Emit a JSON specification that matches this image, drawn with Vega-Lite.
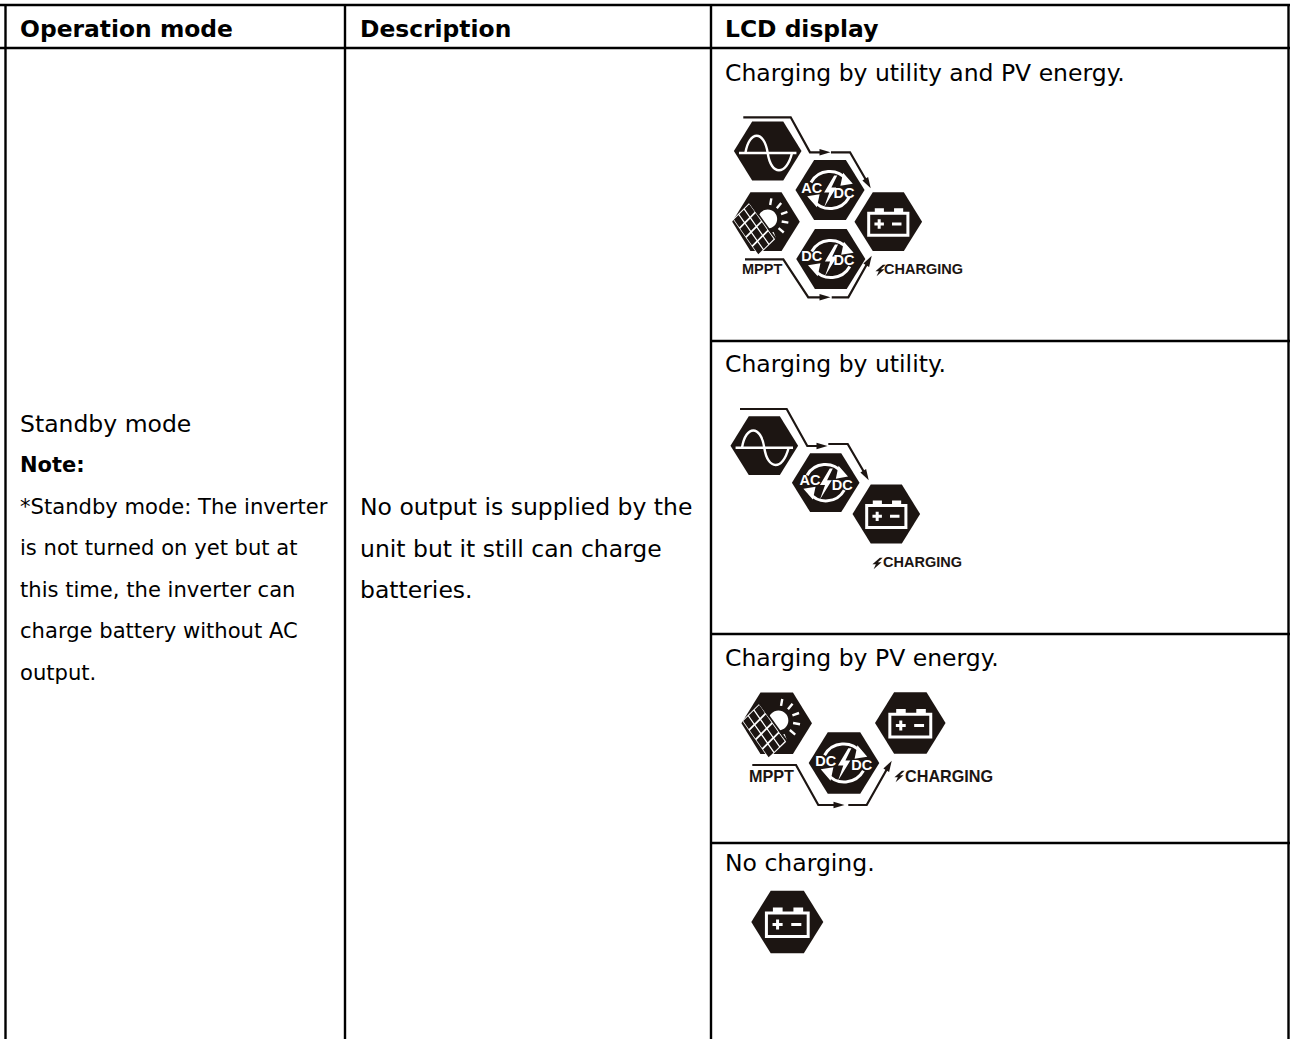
{"$schema":"https://vega.github.io/schema/vega-lite/v6.json","width":1290,"height":1039,"padding":0,"autosize":{"type":"none"},"background":"white","config":{"view":{"stroke":null}},
"datasets":{
"grid":[{"x":0,"y":5,"x2":1290,"y2":5},{"x":0,"y":48,"x2":1290,"y2":48},{"x":5.5,"y":4,"x2":5.5,"y2":1039},{"x":345,"y":4,"x2":345,"y2":1039},{"x":711,"y":4,"x2":711,"y2":1039},{"x":1288.5,"y":4,"x2":1288.5,"y2":1039},{"x":711,"y":341,"x2":1290,"y2":341},{"x":711,"y":634,"x2":1290,"y2":634},{"x":711,"y":843,"x2":1290,"y2":843}],
"texts":[
{"text":"Operation mode","x":20,"y":37,"cls":"head"},{"text":"Description","x":360,"y":37,"cls":"head"},{"text":"LCD display","x":725,"y":37,"cls":"head"},
{"text":"Charging by utility and PV energy.","x":725,"y":81,"cls":"body"},{"text":"Charging by utility.","x":725,"y":372,"cls":"body"},{"text":"Charging by PV energy.","x":725,"y":666,"cls":"body"},{"text":"No charging.","x":725,"y":871,"cls":"body"},
{"text":"Standby mode","x":20,"y":432,"cls":"body"},{"text":"Note:","x":20,"y":472,"cls":"noteHead"},
{"text":"*Standby mode: The inverter","x":20,"y":513.5,"cls":"note"},{"text":"is not turned on yet but at","x":20,"y":555,"cls":"note"},{"text":"this time, the inverter can","x":20,"y":596.5,"cls":"note"},{"text":"charge battery without AC","x":20,"y":638,"cls":"note"},{"text":"output.","x":20,"y":679.5,"cls":"note"},
{"text":"No output is supplied by the","x":360,"y":515,"cls":"body"},{"text":"unit but it still can charge","x":360,"y":556.5,"cls":"body"},{"text":"batteries.","x":360,"y":597.5,"cls":"body"},
{"text":"CHARGING","x":884,"y":270,"cls":"tagA"},{"text":"MPPT","x":742,"y":270,"cls":"tagA"},{"text":"CHARGING","x":883,"y":563,"cls":"tagA"},{"text":"CHARGING","x":905,"y":777,"cls":"tagB"},{"text":"MPPT","x":749,"y":777,"cls":"tagB"},
{"text":"AC","x":811.7,"y":189.3,"cls":"chip"},{"text":"DC","x":844,"y":194.3,"cls":"chip"},{"text":"DC","x":811.7,"y":256.7,"cls":"chip"},{"text":"DC","x":844,"y":260.7,"cls":"chip"},{"text":"AC","x":810,"y":481,"cls":"chip"},{"text":"DC","x":842.3,"y":485.7,"cls":"chip"},{"text":"DC","x":825.7,"y":761.7,"cls":"chip"},{"text":"DC","x":861.7,"y":766,"cls":"chip"}],
"icons":[
{"kind":"sine","variant":"a","x":767.7,"y":151},{"kind":"conv","variant":"b","x":830,"y":190},{"kind":"solar","variant":"a","x":766,"y":221.7},{"kind":"batt","variant":"a","x":888.3,"y":221.7},{"kind":"conv","variant":"b","x":830.8,"y":259},
{"kind":"sine","variant":"a","x":764.3,"y":445.7},{"kind":"conv","variant":"a","x":825.7,"y":482.7},{"kind":"batt","variant":"a","x":886.3,"y":514},
{"kind":"solar","variant":"c","x":776.7,"y":723.3},{"kind":"batt","variant":"c","x":910.3,"y":723},{"kind":"conv","variant":"c","x":844,"y":763},
{"kind":"batt","variant":"d","x":787.3,"y":922}],
"bolts":[{"x":880,"y":270.5},{"x":877,"y":563.5},{"x":899,"y":776.5}],
"links":[
{"id":"a","o":0,"x":743.3,"y":117.3},{"id":"a","o":1,"x":790.7,"y":117.3},{"id":"a","o":2,"x":810,"y":152.3},{"id":"a","o":3,"x":821,"y":152.3},
{"id":"b","o":0,"x":831,"y":152.3},{"id":"b","o":1,"x":850,"y":152.3},{"id":"b","o":2,"x":866,"y":180},
{"id":"c","o":0,"x":745,"y":259.3},{"id":"c","o":1,"x":783.3,"y":259.3},{"id":"c","o":2,"x":808.3,"y":297.3},{"id":"c","o":3,"x":821,"y":297.3},
{"id":"d","o":0,"x":831.7,"y":297.3},{"id":"d","o":1,"x":848.3,"y":297.3},{"id":"d","o":2,"x":867,"y":264},
{"id":"e","o":0,"x":740,"y":409},{"id":"e","o":1,"x":786.7,"y":409},{"id":"e","o":2,"x":807.3,"y":446},{"id":"e","o":3,"x":818.3,"y":446},
{"id":"f","o":0,"x":828.3,"y":444},{"id":"f","o":1,"x":847.7,"y":444},{"id":"f","o":2,"x":864,"y":472},
{"id":"g","o":0,"x":752.3,"y":765},{"id":"g","o":1,"x":796,"y":765},{"id":"g","o":2,"x":818.3,"y":805},{"id":"g","o":3,"x":835,"y":805},
{"id":"h","o":0,"x":848.3,"y":805},{"id":"h","o":1,"x":866.7,"y":805},{"id":"h","o":2,"x":887,"y":769}],
"heads":[{"x":825,"y":152.3,"angle":0},{"x":868,"y":183.5,"angle":60},{"x":825,"y":297.3,"angle":0},{"x":869,"y":260.5,"angle":-60},{"x":822,"y":446,"angle":0},{"x":866,"y":475.5,"angle":60},{"x":839,"y":805,"angle":0},{"x":889,"y":765.5,"angle":-60}]
},
"encoding":{"x":{"field":"x","type":"quantitative","axis":null,"scale":{"domain":[0,1290],"nice":false,"zero":false}},"y":{"field":"y","type":"quantitative","axis":null,"scale":{"domain":[1039,0],"nice":false,"zero":false}}},
"layer":[
{"data":{"name":"grid"},"mark":{"type":"rule","stroke":"#000","strokeWidth":2.4},"encoding":{"x2":{"field":"x2"},"y2":{"field":"y2"}}},
{"data":{"name":"icons"},"mark":{"type":"point","shape":"M-1,0 L-0.46,-0.87 L0.46,-0.87 L1,0 L0.46,0.87 L-0.46,0.87 Z","filled":true,"color":"#1c1512","opacity":1},"encoding":{"size":{"field":"variant","type":"nominal","legend":null,"scale":{"domain":["a","b","c","d"],"range":[4570,5184,5388,4900]}}}},
{"data":{"name":"icons"},"transform":[{"filter":"datum.kind==='sine'"}],"mark":{"type":"point","shape":"M-0.85,0.06 L0.85,0.06 M-0.66,0.06 C-0.55,-0.62 -0.1,-0.62 0,0.06 C0.1,0.74 0.55,0.74 0.72,0.06","filled":false,"stroke":"white","strokeWidth":2.4,"opacity":1},"encoding":{"size":{"field":"variant","type":"nominal","legend":null,"scale":{"domain":["a","b","c","d"],"range":[4570,5184,5388,4900]}}}},
{"data":{"name":"icons"},"transform":[{"filter":"datum.kind==='batt'"}],"mark":{"type":"point","shape":"M-0.58,-0.25 H0.58 V0.4 H-0.58 Z M-0.41,0.07 H-0.13 M-0.27,-0.07 V0.21 M0.11,0.07 H0.39","filled":false,"stroke":"white","strokeWidth":3,"opacity":1},"encoding":{"size":{"field":"variant","type":"nominal","legend":null,"scale":{"domain":["a","b","c","d"],"range":[4570,5184,5388,4900]}}}},
{"data":{"name":"icons"},"transform":[{"filter":"datum.kind==='batt'"}],"mark":{"type":"point","shape":"M-0.4,-0.25 V-0.4 H-0.13 V-0.25 Z M0.17,-0.25 V-0.4 H0.44 V-0.25 Z","filled":true,"color":"white","opacity":1},"encoding":{"size":{"field":"variant","type":"nominal","legend":null,"scale":{"domain":["a","b","c","d"],"range":[4570,5184,5388,4900]}}}},
{"data":{"name":"icons"},"transform":[{"filter":"datum.kind==='conv'"}],"mark":{"type":"point","shape":"M-0.55,-0.22 A0.62,0.62 0 0 1 0.48,-0.3 M0.55,0.22 A0.62,0.62 0 0 1 -0.48,0.3","filled":false,"stroke":"white","strokeWidth":3,"opacity":1},"encoding":{"size":{"field":"variant","type":"nominal","legend":null,"scale":{"domain":["a","b","c","d"],"range":[4570,5184,5388,4900]}}}},
{"data":{"name":"icons"},"transform":[{"filter":"datum.kind==='conv'"}],"mark":{"type":"point","shape":"M0.38,-0.5 L0.66,-0.18 L0.3,-0.12 Z M-0.38,0.5 L-0.66,0.18 L-0.3,0.12 Z M0.12,-0.42 L-0.17,0.07 L-0.02,0.07 L-0.17,0.5 L0.18,-0.07 L0.04,-0.07 L0.21,-0.42 Z","filled":true,"color":"white","opacity":1},"encoding":{"size":{"field":"variant","type":"nominal","legend":null,"scale":{"domain":["a","b","c","d"],"range":[4570,5184,5388,4900]}}}},
{"data":{"name":"icons"},"transform":[{"filter":"datum.kind==='solar'"}],"mark":{"type":"point","shape":"M-0.23,-0.08 A0.28,0.28 0 1 1 0.33,-0.08 A0.28,0.28 0 1 1 -0.23,-0.08 Z","filled":true,"color":"white","opacity":1},"encoding":{"size":{"field":"variant","type":"nominal","legend":null,"scale":{"domain":["a","b","c","d"],"range":[4570,5184,5388,4900]}}}},
{"data":{"name":"icons"},"transform":[{"filter":"datum.kind==='solar'"}],"mark":{"type":"point","shape":"M0.123,-0.494 L0.158,-0.69 M0.32,-0.4 L0.449,-0.555 M0.445,-0.224 L0.633,-0.292 M0.464,-0.007 L0.661,0.028 M0.372,0.19 L0.525,0.319 M0.194,0.315 L0.262,0.503","filled":false,"stroke":"white","strokeWidth":2.4,"opacity":1},"encoding":{"size":{"field":"variant","type":"nominal","legend":null,"scale":{"domain":["a","b","c","d"],"range":[4570,5184,5388,4900]}}}},
{"data":{"name":"icons"},"transform":[{"filter":"datum.kind==='solar'"}],"mark":{"type":"point","shape":"M-0.98,-0.07 L-0.5,-0.55 L0.27,0.52 L-0.23,1 Z","filled":true,"color":"white","opacity":1},"encoding":{"size":{"field":"variant","type":"nominal","legend":null,"scale":{"domain":["a","b","c","d"],"range":[4570,5184,5388,4900]}}}},
{"data":{"name":"icons"},"transform":[{"filter":"datum.kind==='solar'"}],"mark":{"type":"point","shape":"M-0.5,-0.55 L0.27,0.52 L0.31,0.49 L-0.46,-0.58 Z M-0.948,-0.062 l0.1575,0.2247 l0.1344,-0.1344 l-0.1575,-0.2247 z M-0.788,-0.222 l0.1575,0.2247 l0.1344,-0.1344 l-0.1575,-0.2247 z M-0.628,-0.382 l0.1575,0.2247 l0.1344,-0.1344 l-0.1575,-0.2247 z M-0.761,0.206 l0.1575,0.2247 l0.1344,-0.1344 l-0.1575,-0.2247 z M-0.601,0.046 l0.1575,0.2247 l0.1344,-0.1344 l-0.1575,-0.2247 z M-0.441,-0.114 l0.1575,0.2247 l0.1344,-0.1344 l-0.1575,-0.2247 z M-0.573,0.473 l0.1575,0.2247 l0.1344,-0.1344 l-0.1575,-0.2247 z M-0.413,0.313 l0.1575,0.2247 l0.1344,-0.1344 l-0.1575,-0.2247 z M-0.253,0.153 l0.1575,0.2247 l0.1344,-0.1344 l-0.1575,-0.2247 z M-0.386,0.741 l0.1575,0.2247 l0.1344,-0.1344 l-0.1575,-0.2247 z M-0.226,0.581 l0.1575,0.2247 l0.1344,-0.1344 l-0.1575,-0.2247 z M-0.066,0.421 l0.1575,0.2247 l0.1344,-0.1344 l-0.1575,-0.2247 z","filled":true,"color":"#1c1512","opacity":1},"encoding":{"size":{"field":"variant","type":"nominal","legend":null,"scale":{"domain":["a","b","c","d"],"range":[4570,5184,5388,4900]}}}},
{"data":{"name":"links"},"mark":{"type":"line","stroke":"#1c1512","strokeWidth":2.2,"interpolate":"linear"},"encoding":{"detail":{"field":"id"},"order":{"field":"o"}}},
{"data":{"name":"heads"},"mark":{"type":"point","shape":"M-1,-0.6 L1,0 L-1,0.6 Z","filled":true,"color":"#1c1512","opacity":1,"size":121},"encoding":{"angle":{"field":"angle","type":"quantitative","scale":null}}},
{"data":{"name":"bolts"},"mark":{"type":"point","shape":"M0.5,-1 L-0.8,0.15 L-0.2,0.15 L-0.6,1 L0.8,-0.2 L0.15,-0.2 L1,-1 Z","filled":true,"color":"#1c1512","opacity":1,"size":130}},
{"data":{"name":"texts"},"transform":[{"filter":"datum.cls==='head'"}],"mark":{"type":"text","align":"left","baseline":"alphabetic","font":"DejaVu Sans","fontWeight":"bold","fontSize":23.4,"color":"#000"},"encoding":{"text":{"field":"text"}}},
{"data":{"name":"texts"},"transform":[{"filter":"datum.cls==='body'"}],"mark":{"type":"text","align":"left","baseline":"alphabetic","font":"DejaVu Sans","fontSize":23.5,"color":"#000"},"encoding":{"text":{"field":"text"}}},
{"data":{"name":"texts"},"transform":[{"filter":"datum.cls==='noteHead'"}],"mark":{"type":"text","align":"left","baseline":"alphabetic","font":"DejaVu Sans","fontWeight":"bold","fontSize":21,"color":"#000"},"encoding":{"text":{"field":"text"}}},
{"data":{"name":"texts"},"transform":[{"filter":"datum.cls==='note'"}],"mark":{"type":"text","align":"left","baseline":"alphabetic","font":"DejaVu Sans","fontSize":21.1,"color":"#000"},"encoding":{"text":{"field":"text"}}},
{"data":{"name":"texts"},"transform":[{"filter":"datum.cls==='tagA'"}],"mark":{"type":"text","align":"left","baseline":"middle","font":"Liberation Sans","fontWeight":"bold","fontSize":14.5,"color":"#1c1512"},"encoding":{"text":{"field":"text"}}},
{"data":{"name":"texts"},"transform":[{"filter":"datum.cls==='tagB'"}],"mark":{"type":"text","align":"left","baseline":"middle","font":"Liberation Sans","fontWeight":"bold","fontSize":16.2,"color":"#1c1512"},"encoding":{"text":{"field":"text"}}},
{"data":{"name":"texts"},"transform":[{"filter":"datum.cls==='chip'"}],"mark":{"type":"text","align":"center","baseline":"middle","font":"Liberation Sans","fontWeight":"bold","fontSize":14.5,"color":"white"},"encoding":{"text":{"field":"text"}}}
]}
